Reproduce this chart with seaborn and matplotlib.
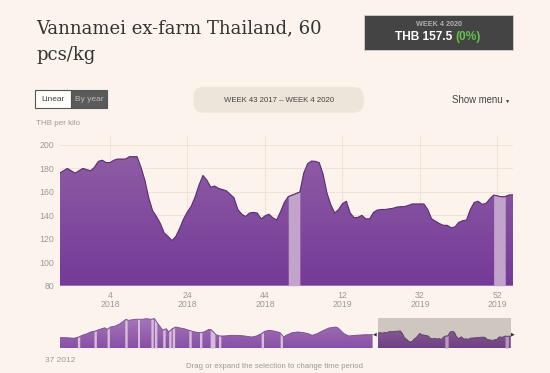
import numpy as np
import pandas as pd
import matplotlib
matplotlib.use("Agg")
import matplotlib.pyplot as plt
import seaborn as sns
from matplotlib.patches import Rectangle, FancyBboxPatch
from matplotlib.colors import LinearSegmentedColormap

# ---------------- data ----------------
# main chart: weekly price, week 43 2017 (index 0) .. week 4 2020 (index 117)
main_price = [176, 178, 180, 178, 176, 178, 180, 179, 178, 181,
              186, 187, 185, 185, 187, 188, 188, 188, 190, 190,
              190, 181, 170, 155, 144, 139, 133, 125, 122, 118.5,
              122, 129, 137, 143, 148, 156, 166, 174, 170, 164,
              165, 163, 162, 161, 158, 155, 145, 141, 139, 142,
              142.5, 142, 137, 139.5, 141, 138, 136, 143, 151, 156,
              157.3, 158.6, 160, 176, 184, 186.3, 186, 185, 175, 159,
              149, 142, 145, 150, 152, 142, 138, 138.3, 140, 137,
              137, 142.5, 144.5, 145, 145, 145.5, 146, 147, 147.4, 147.4,
              148.5, 149.7, 149.7, 149.7, 149.7, 145, 137, 135, 133, 131.5,
              131.5, 129.5, 130, 134, 135.4, 136, 145, 151, 152, 149.5,
              150, 154, 157.3, 156.6, 155.8, 156, 157.4, 157.5]
main_week = list(range(len(main_price)))
tick_week = [13, 33, 53, 73, 93, 113]
tick_label = ["4\n2018", "24\n2018", "44\n2018", "12\n2019", "32\n2019", "52\n2019"]
y_ticks = [80, 100, 120, 140, 160, 180, 200]
# weeks without data (shown as light bands)
gap_start = [59, 112]
gap_end = [62, 115]

# navigator history, week 37 2012 onward (weeks since start)
hist_week = [0, 5, 9, 12, 16, 19, 23, 26, 30, 34, 38, 40, 43, 47, 51, 56, 58, 64,
             70, 73, 77, 80, 83, 85, 87, 90, 92, 95, 98, 102, 105, 109, 114, 118,
             122, 126, 128, 132, 135, 139, 145, 150, 156, 162, 166, 170, 173, 177,
             182, 186, 189, 191, 196, 201, 206, 210, 213, 217, 221, 227, 233, 235,
             240, 244, 249, 258, 264]
hist_price = [147, 147, 145, 143, 151, 162, 172, 183, 190, 201, 211, 201, 216, 222,
              237, 266, 259, 266, 266, 270, 266, 270, 237, 216, 195, 205, 184, 205,
              216, 209, 205, 195, 184, 179, 184, 201, 198, 166, 158, 158, 162, 162,
              158, 151, 158, 172, 188, 195, 188, 179, 151, 162, 179, 184, 179, 172,
              162, 172, 188, 209, 216, 209, 172, 158, 162, 166, 166]
hist_gap_start = [15, 29, 40, 55, 66, 77, 80, 87, 92, 95, 109, 118, 127, 134, 170, 186]
hist_gap_end = [17, 31, 42, 57, 68, 79, 82, 89, 94, 97, 111, 120, 131, 136, 172, 188]

title = "Vannamei ex-farm Thailand, 60\npcs/kg"
box_week = "WEEK 4 2020"
box_value = "THB 157.5"
box_change = "(0%)"
range_text = "WEEK 43 2017 \u2013 WEEK 4 2020"
unit_text = "THB per kilo"
nav_start = "37 2012"

# ---------------- style ----------------
BG = "#FCF4EC"
GRID = "#EFE3D8"
GRAY = "#9A9A9A"
sns.set_theme(style="white")
plt.rcParams["font.family"] = ["Liberation Sans", "DejaVu Sans"]

W, H = 550, 373
fig = plt.figure(figsize=(W / 100, H / 100), dpi=100, facecolor=BG)


def ax_px(x0, y0, x1, y1):
    return fig.add_axes([x0 / W, 1 - y1 / H, (x1 - x0) / W, (y1 - y0) / H])


def T(x, y, s, **kw):
    return fig.text(x / W, 1 - y / H, s, **kw)


def gradient_area(ax, x, y, base, top_col, bot_col, ytop, edge, lw, z=2):
    x = np.asarray(x, float)
    y = np.asarray(y, float)
    poly = ax.fill_between(x, y, base, color="none", lw=0, zorder=z)
    cmap = LinearSegmentedColormap.from_list("g", [bot_col, top_col])
    grad = np.linspace(0, 1, 256).reshape(-1, 1)
    img = ax.imshow(grad, extent=[x.min(), x.max(), base, ytop], aspect="auto",
                    cmap=cmap, origin="lower", zorder=z, interpolation="bilinear")
    img.set_clip_path(poly.get_paths()[0], transform=ax.transData)
    sns.lineplot(x=x, y=y, ax=ax, color=edge, lw=lw, zorder=z + 2, legend=False)


# ---------------- main chart ----------------
ax = ax_px(59.6, 135, 513, 285.7)
ax.set_facecolor(BG)
ax.set_xlim(0, main_week[-1])
ax.set_ylim(80, 208.5)
for s in ax.spines.values():
    s.set_visible(False)
ax.set_yticks(y_ticks)
ax.set_xticks(tick_week)
ax.set_xticklabels(tick_label)
ax.grid(True, color=GRID, lw=0.7, zorder=0)
ax.tick_params(axis="both", length=0, labelsize=6.3, labelcolor=GRAY)
ax.tick_params(axis="x", pad=4)
ax.tick_params(axis="y", pad=4)
for lab in ax.get_xticklabels():
    lab.set_linespacing(1.0)

gradient_area(ax, main_week, main_price, 80, "#8E5CA4", "#743A98", 191,
              "#5C2C72", 0.8)
mw = np.asarray(main_week)
mp = np.asarray(main_price)
for a, b in zip(gap_start, gap_end):
    ax.fill_between(mw, mp, 80, where=(mw >= a) & (mw <= b), color="#C2A3CB",
                    lw=0, zorder=3)
ax.set_xlabel("")
ax.set_ylabel("")

# ---------------- navigator ----------------
nl = ax_px(59.6, 317.7, 372.6, 348)
nl.set_facecolor(BG)
nl.set_xlim(0, hist_week[-1])
nl.set_ylim(80, 276)
nl.axis("off")
gradient_area(nl, hist_week, hist_price, 80, "#A577B9", "#8750A5", 270,
              "#7A4A92", 0.6)
hw = np.asarray(hist_week)
hp = np.asarray(hist_price)
for a, b in zip(hist_gap_start, hist_gap_end):
    hv = np.interp(np.array([a, b], float), hw, hp)
    nl.fill_between([a, b], hv, 80, color="#D6BEDB", lw=0, zorder=3)

nr = ax_px(377.7, 317.7, 510.7, 348)
nr.set_facecolor("#CEC7BF")
nr.set_xlim(0, main_week[-1])
nr.set_ylim(80, 276)
for s in nr.spines.values():
    s.set_visible(False)
nr.set_xticks([])
nr.set_yticks([])
gradient_area(nr, main_week, main_price, 80, "#84598F", "#6E4184", 191,
              "#5E3A70", 0.6)
for a, b in zip(gap_start, gap_end):
    nr.fill_between(mw, mp, 80, where=(mw >= a) & (mw <= b), color="#B59ABB",
                    lw=0, zorder=3)
nr.set_xlabel("")
nr.set_ylabel("")

T(374.6, 333.5, "\u25C0", fontsize=3.5, color="#333333", ha="center", va="center")
T(513.0, 333.5, "\u25B6", fontsize=3.5, color="#333333", ha="center", va="center")

T(60, 360, nav_start, fontsize=6, color=GRAY, ha="center", va="center")
T(274, 366, "Drag or expand the selection to change time period", fontsize=5.6,
  color=GRAY, ha="center", va="center")

# ---------------- header ----------------
T(36, 42, title, fontsize=13, color="#333333", ha="left", va="center",
  family=["DejaVu Serif"], linespacing=1.6)

fig.add_artist(Rectangle((364 / W, 1 - 49.5 / H), (513 - 364) / W, 34.8 / H,
                         transform=fig.transFigure, facecolor="#444444",
                         edgecolor="#D0D0D0", lw=0.6))
T(438.5, 24, box_week, fontsize=5.2, color="#B0B0B0", ha="center", va="center",
  weight="bold")
T(452.5, 37, box_value, fontsize=8.6, color="white", ha="right", va="center",
  weight="bold")
T(455.0, 37, box_change, fontsize=8.6, color="#63C24A", ha="left", va="center",
  weight="bold")

# Linear / By year toggle
fig.add_artist(Rectangle((35.4 / W, 1 - 108 / H), (71.2 - 35.4) / W, 17.5 / H,
                         transform=fig.transFigure, facecolor="#FFFDFA",
                         edgecolor="#555555", lw=0.8))
fig.add_artist(Rectangle((71.2 / W, 1 - 108 / H), (107 - 71.2) / W, 17.5 / H,
                         transform=fig.transFigure, facecolor="#5A5A5A",
                         edgecolor="#555555", lw=0.8))
T(53.3, 99.5, "Linear", fontsize=6, color="#444444", ha="center", va="center")
T(89.1, 99.5, "By year", fontsize=6, color="#BBBBBB", ha="center", va="center")

# date range pill
fig.add_artist(FancyBboxPatch((200 / W, 1 - 106 / H), (357 - 200) / W, 12.5 / H,
                              boxstyle="round,pad=0.012,rounding_size=0.018",
                              transform=fig.transFigure, facecolor="#EDE4DA",
                              edgecolor="none", mutation_aspect=W / H))
T(279, 100, range_text, fontsize=5.6, color="#444444", ha="center", va="center")

T(452, 100, "Show menu", fontsize=6.9, color="#444444", ha="left", va="center")
T(507.5, 101, "\u25BC", fontsize=3.8, color="#333333", ha="center", va="center")

T(36, 123.5, unit_text, fontsize=5.8, color=GRAY, ha="left", va="center")

fig.savefig("out.png", dpi=100, facecolor=BG)
